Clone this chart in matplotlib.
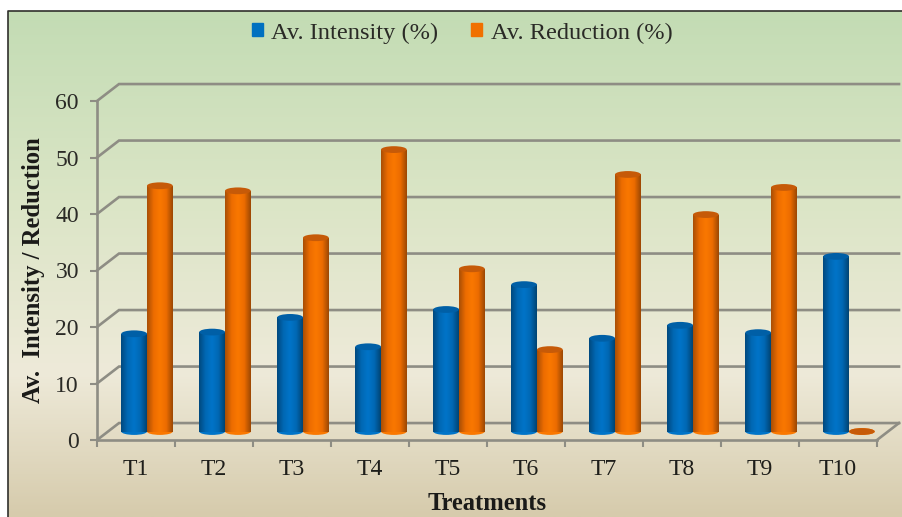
import numpy as np
import matplotlib
matplotlib.use("Agg")
import matplotlib.pyplot as plt
from matplotlib.colors import LinearSegmentedColormap
from matplotlib.patches import Ellipse, Patch

treatments = ["T1", "T2", "T3", "T4", "T5", "T6", "T7", "T8", "T9", "T10"]
intensity = [17.3, 17.6, 20.2, 15.0, 21.6, 26.0, 16.5, 18.8, 17.5, 31.0]
reduction = [43.5, 42.6, 34.3, 49.9, 28.8, 14.5, 45.5, 38.4, 43.2, 0.0]
y_ticks = [0, 10, 20, 30, 40, 50, 60]

BLUE = "#0070c0"
ORANGE = "#f07000"
GRID = "#8e8d84"
WALL_X = 0.282
WALL_Y = 3.0
BAR_W = 0.33
TOP_H = 1.2

plt.rcParams["font.family"] = ["Liberation Serif", "DejaVu Serif"]

blue_map = LinearSegmentedColormap.from_list("b", ["#00497f", "#0068b4", "#0074c8", "#0068b4", "#004473"])
orange_map = LinearSegmentedColormap.from_list("o", ["#a94e06", "#ec6c00", "#fa7800", "#ec6c00", "#9c4804"])
back_map = LinearSegmentedColormap.from_list("bg", ["#c3dcb4", "#dbe5c6", "#eeead9", "#d6cbac"])


def draw_background(fig):
    bg = fig.add_axes([0, 0, 1, 1], zorder=0)
    shade = np.interp(np.linspace(0, 1, 256), [0, 0.37, 0.72, 1], [0, 0.33, 0.67, 1]).reshape(-1, 1)
    bg.imshow(shade, cmap=back_map, extent=[8, 903, 517, 11], aspect="auto", vmin=0, vmax=1)
    bg.plot([8, 8, 903], [517, 11, 11], color="#30302c", lw=1.2)
    bg.set_xlim(0, 903)
    bg.set_ylim(517, 0)
    bg.axis("off")


def draw_walls(ax):
    for v in y_ticks:
        ax.plot([0, WALL_X, 10 + WALL_X], [v, v + WALL_Y, v + WALL_Y], color=GRID, lw=1.9,
                clip_on=False, zorder=1, solid_joinstyle="miter")
    ax.plot([10, 10 + WALL_X], [0, WALL_Y], color=GRID, lw=1.9, clip_on=False, zorder=1)


def draw_cylinder(ax, x, value, cmap, top_color, z):
    left = x - BAR_W / 2
    right = x + BAR_W / 2
    base = WALL_Y / 2
    ax.add_patch(Ellipse((x, base), BAR_W, TOP_H, facecolor=cmap(0.5), edgecolor="none",
                         clip_on=False, zorder=z))
    if value > 0:
        ramp = np.linspace(0, 1, 64).reshape(1, -1)
        ax.imshow(ramp, cmap=cmap, extent=[left, right, base, base + value], aspect="auto",
                  clip_on=False, zorder=z, interpolation="bilinear")
    ax.add_patch(Ellipse((x, base + value), BAR_W, TOP_H, facecolor=top_color, edgecolor="none",
                         clip_on=False, zorder=z))


fig = plt.figure(figsize=(9.03, 5.17), dpi=100)
draw_background(fig)

ax = fig.add_axes([97 / 903, 77 / 517, 780 / 903, 339 / 517], zorder=1)
ax.patch.set_alpha(0)
draw_walls(ax)

for i, name in enumerate(treatments):
    center = i + 0.5 + WALL_X / 2
    draw_cylinder(ax, center - BAR_W / 2, intensity[i], blue_map, "#005fa6", 3 + i * 2)
    draw_cylinder(ax, center + BAR_W / 2, reduction[i], orange_map, "#c65a08", 4 + i * 2)

ax.set_xlim(0, 10)
ax.set_ylim(0, 60)
for side in ["top", "right"]:
    ax.spines[side].set_visible(False)
for side in ["left", "bottom"]:
    ax.spines[side].set_color(GRID)
    ax.spines[side].set_linewidth(1.9)
    ax.spines[side].set_zorder(2)

ax.set_yticks(y_ticks)
ax.set_xticks(np.arange(11))
ax.set_xticklabels([])
ax.set_xticks(np.arange(10) + 0.5, labels=treatments, minor=True)
ax.tick_params(axis="both", which="major", color=GRID, width=1.5, length=5)
ax.tick_params(axis="y", labelsize=17, labelcolor="#2a2a26", pad=8)
ax.tick_params(axis="x", which="minor", length=0, labelsize=17, labelcolor="#1e1e1a", pad=14)

fig.text(34 / 903, 1 - 270 / 517, "Av.  Intensity / Reduction", rotation=90, fontsize=17.7,
         fontweight="bold", ha="center", va="center", color="#1a1a18")
fig.text(487 / 903, 1 - 504 / 517, "Treatments", fontsize=17.7, fontweight="bold",
         ha="center", va="center", color="#1a1a18")

handles = [Patch(color=BLUE, label="Av. Intensity (%)"), Patch(color=ORANGE, label="Av. Reduction (%)")]
fig.legend(handles=handles, loc="center", bbox_to_anchor=(462 / 903, 1 - 33 / 517), ncol=2, frameon=False,
           fontsize=17.6, handlelength=0.45, handleheight=0.45, handletextpad=0.35, columnspacing=1.35,
           labelcolor="#2a2a26")

fig.savefig("out.png", dpi=100)
